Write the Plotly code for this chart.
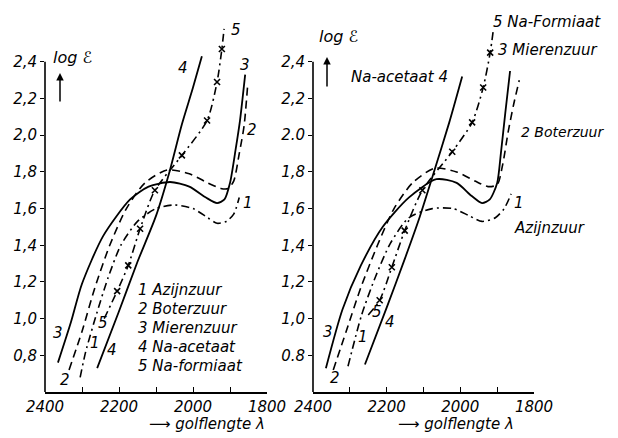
import plotly.graph_objects as go

# ---------------- data (wavelength, log eps) ----------------
# Left panel
lam1_L = [2305, 2290, 2260, 2230, 2195, 2150, 2100, 2050, 2000, 1960, 1935, 1910, 1890, 1875]
val1_L = [0.68, 0.82, 1.03, 1.22, 1.40, 1.53, 1.60, 1.62, 1.60, 1.55, 1.52, 1.53, 1.57, 1.66]
lam2_L = [2335, 2300, 2265, 2225, 2180, 2130, 2070, 2010, 1960, 1925, 1905, 1890, 1875, 1862, 1852]
val2_L = [0.72, 0.93, 1.17, 1.40, 1.60, 1.74, 1.81, 1.79, 1.74, 1.71, 1.71, 1.75, 1.90, 2.05, 2.28]
lam3_L = [2365, 2330, 2300, 2243, 2170, 2120, 2062, 2010, 1965, 1935, 1915, 1900, 1885, 1873, 1859]
val3_L = [0.76, 0.98, 1.19, 1.45, 1.65, 1.72, 1.745, 1.72, 1.66, 1.63, 1.65, 1.74, 1.92, 2.08, 2.33]
lam4_L = [2259, 2200, 2150, 2100, 2065, 2030, 2000, 1976]
val4_L = [0.73, 1.04, 1.31, 1.56, 1.79, 2.06, 2.26, 2.43]
lam5_L = [2240, 2205, 2175, 2143, 2103, 2030, 1962, 1935, 1922, 1916]
val5_L = [1.00, 1.15, 1.29, 1.49, 1.70, 1.89, 2.08, 2.29, 2.47, 2.58]

# Right panel
lam1_R = [2305, 2268, 2230, 2190, 2140, 2076, 2020, 1975, 1941, 1905, 1881, 1862]
val1_R = [0.74, 1.02, 1.23, 1.41, 1.55, 1.60, 1.60, 1.56, 1.53, 1.55, 1.60, 1.68]
lam2_R = [2345, 2310, 2270, 2225, 2180, 2130, 2070, 2010, 1960, 1925, 1900, 1885, 1870, 1855, 1840]
val2_R = [0.72, 0.93, 1.17, 1.40, 1.60, 1.74, 1.82, 1.80, 1.75, 1.72, 1.73, 1.84, 2.02, 2.17, 2.30]
lam3_R = [2365, 2320, 2270, 2211, 2140, 2065, 2010, 1970, 1941, 1920, 1900, 1890, 1878, 1865]
val3_R = [0.73, 1.05, 1.29, 1.50, 1.66, 1.76, 1.74, 1.67, 1.63, 1.65, 1.74, 1.90, 2.12, 2.35]
lam4_R = [2259, 2200, 2150, 2111, 2070, 2030, 1995]
val4_R = [0.75, 1.06, 1.33, 1.55, 1.81, 2.07, 2.32]
lam5_R = [2250, 2219, 2186, 2151, 2103, 2022, 1968, 1938, 1919, 1910]
val5_R = [1.02, 1.10, 1.28, 1.48, 1.70, 1.91, 2.07, 2.26, 2.45, 2.58]

x_tick_vals = [2400, 2300, 2200, 2100, 2000, 1900, 1800]
x_tick_text = ["2400", "", "2200", "", "2000", "", "1800"]
y_tick_vals = [0.8, 1.0, 1.2, 1.4, 1.6, 1.8, 2.0, 2.2, 2.4]
y_tick_text_L = ["0,8", "1,0", "1,2", "1,4", "1,6", "1,8", "2,0", "2,2", "2,4"]
y_tick_text_R = ["0.8", "1,0", "1,2", "1,4", "1,6", "1,8", "2.0", "2,2", "2,4"]

legend_lines = ["1 Azijnzuur", "2 Boterzuur", "3 Mierenzuur", "4 Na-acetaat", "5 Na-formiaat"]

# ---------------- figure ----------------
W, H = 618, 438
FONT = "DejaVu Sans"
fig = go.Figure()

SOLID = "solid"
DASH = "8px,5px"
DASHDOT = "8px,4px,2px,4px"


def curve(lam, val, dash, xa, ya, width=1.8):
    fig.add_trace(go.Scatter(
        x=lam, y=val, mode="lines", xaxis=xa, yaxis=ya,
        line=dict(color="black", width=width, dash=dash, shape="spline", smoothing=0.7),
        hoverinfo="skip", showlegend=False))


def markers(lam, val, xa, ya):
    fig.add_trace(go.Scatter(
        x=lam, y=val, mode="markers", xaxis=xa, yaxis=ya,
        marker=dict(symbol="x-thin", size=6, line=dict(color="black", width=1.6)),
        hoverinfo="skip", showlegend=False))


for xa, ya, d in [("x", "y", (lam1_L, val1_L, lam2_L, val2_L, lam3_L, val3_L, lam4_L, val4_L, lam5_L, val5_L)),
                  ("x2", "y2", (lam1_R, val1_R, lam2_R, val2_R, lam3_R, val3_R, lam4_R, val4_R, lam5_R, val5_R))]:
    l1, v1, l2, v2, l3, v3, l4, v4, l5, v5 = d
    curve(l1, v1, DASHDOT, xa, ya, 1.6)
    curve(l2, v2, DASH, xa, ya, 1.6)
    curve(l3, v3, SOLID, xa, ya, 1.8)
    curve(l4, v4, SOLID, xa, ya, 1.8)
    curve(l5, v5, DASHDOT, xa, ya, 1.6)
    markers(l5[1:-1], v5[1:-1], xa, ya)

tickfont = dict(family=FONT, size=15, color="black", style="italic")
ydom = [1 - 392 / H, 1 - 16 / H]


def xaxis(dom, anchor):
    return dict(domain=dom, anchor=anchor, range=[2400, 1800], tickvals=x_tick_vals, ticktext=x_tick_text,
                ticks="inside", ticklen=5, tickwidth=1.3, tickcolor="black",
                showline=True, linecolor="black", linewidth=1.6, showgrid=False, zeroline=False,
                tickfont=tickfont, tickangle=0, fixedrange=True, automargin=False)


def yaxis(anchor, text):
    return dict(domain=ydom, anchor=anchor, range=[0.6, 2.65], tickvals=y_tick_vals, ticktext=text,
                ticks="outside", ticklen=4, tickwidth=1.3, tickcolor="black",
                showline=False, showgrid=False, zeroline=False, tickfont=tickfont, fixedrange=True,
                automargin=False)


fig.update_layout(
    template="none",
    width=W, height=H, margin=dict(l=0, r=0, t=0, b=0, autoexpand=False),
    paper_bgcolor="white", plot_bgcolor="white",
    xaxis=xaxis([45 / W, 267 / W], "y"),
    yaxis=yaxis("x", y_tick_text_L),
    xaxis2=xaxis([313 / W, 534 / W], "y2"),
    yaxis2=yaxis("x2", y_tick_text_R),
    showlegend=False,
)

# vertical axis lines up to 2.4
for xr, yr in [("x domain", "y"), ("x2 domain", "y2")]:
    fig.add_shape(type="line", xref=xr, yref=yr, x0=0, x1=0, y0=0.6, y1=2.4,
                  line=dict(color="black", width=1.6))


def txt(s, xp, yp, anchor="left", size=15):
    fig.add_annotation(text=s, x=xp / W, y=1 - yp / H, xref="paper", yref="paper",
                       xanchor=anchor, yanchor="middle", showarrow=False, borderpad=0,
                       font=dict(family=FONT, size=size, color="black", style="italic"))


def arrow(xp, y_head, y_tail):
    fig.add_annotation(x=xp / W, y=1 - y_head / H, xref="paper", yref="paper",
                       ax=0, ay=y_tail - y_head, text="", showarrow=True,
                       arrowhead=2, arrowsize=1, arrowwidth=1.5, arrowcolor="black")


# left panel texts
txt("log ℰ", 52, 58, size=16)
arrow(60, 73, 103)
txt("⟶ golflengte λ", 148, 424, size=15)
for i, s in enumerate(legend_lines):
    txt(s, 137, 290 + 19 * i)
for s, xp, yp in [("4", 183, 68), ("3", 245, 65), ("2", 252, 130), ("1", 248, 203), ("5", 236, 30),
                  ("3", 58, 333), ("2", 65, 380), ("1", 95, 343), ("5", 103, 323), ("4", 112, 350)]:
    txt(s, xp, yp, anchor="center")

# right panel texts
txt("log ℰ", 318, 36, size=16)
arrow(327, 57, 88)
txt("⟶ golflengte λ", 397, 424, size=15)
txt("5 Na-Formiaat", 492, 22)
txt("3 Mierenzuur", 497, 50)
txt("Na-acetaat 4", 350, 77)
txt("2 Boterzuur", 520, 132, size=14)
txt("Azijnzuur", 513, 228)
for s, xp, yp in [("1", 519, 203), ("3", 328, 332), ("2", 335, 378), ("1", 363, 337),
                  ("5", 377, 312), ("4", 390, 322)]:
    txt(s, xp, yp, anchor="center")

fig.write_html("out.html", config={"displayModeBar": False},
               post_script="document.body.style.margin='0';document.body.style.padding='0';")
